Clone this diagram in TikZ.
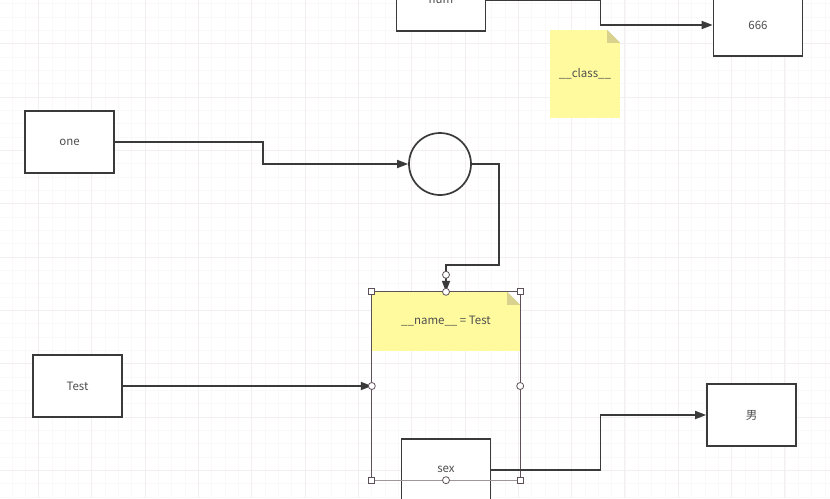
\documentclass[tikz,border=0pt]{standalone}
\usepackage{fontspec}
\setmainfont{Noto Sans CJK SC}
\usepackage{tikz}
\usetikzlibrary{calc,arrows.meta,positioning}
\definecolor{inkx}{HTML}{3A3A3A}
\definecolor{framex}{HTML}{5E5058}
\definecolor{notey}{HTML}{FFFA9E}
\definecolor{foldy}{HTML}{D8D28E}
\definecolor{gridx}{HTML}{F3EFF0}
\definecolor{gridm}{HTML}{FAF8F9}
\tikzset{
  ar/.style={-{Triangle[length=11pt,width=8pt]},line width=1.7pt,inkx},
  box/.style={draw=inkx,line width=1.7pt,fill=white,minimum width=89,minimum height=62,inner sep=0pt,font=\fontsize{11.5}{12}\selectfont,text=inkx!90},
  note/.style={fill=notey,inner sep=0pt,font=\fontsize{11.5}{12}\selectfont,text=inkx!90},
  gr/.style={gridx,line width=0.6pt},
  grm/.style={gridm,line width=0.5pt},
  hsq/.style={draw=framex,fill=white,line width=0.8pt,minimum size=6,inner sep=0pt},
  hci/.style={draw=framex,fill=white,line width=0.8pt,circle,minimum size=7,inner sep=0pt}
}
\begin{document}
\begin{tikzpicture}[x=1pt,y=-1pt]
\useasboundingbox (0,0) rectangle (830,498);
\clip (0,0) rectangle (830,498);
\fill[white] (0,0) rectangle (830,498);
% background grid
\foreach \i in {0,...,64}
  \draw[grm] ({-14.9+13.33*\i},0) -- ++(0,498) (0,{-9.6+13.33*\i}) -- ++(830,0);
\foreach \i in {0,...,16}
  \draw[gr] ({-14.9+53.3*\i},0) -- ++(0,498) (0,{-9.6+53.3*\i}) -- ++(830,0);
% top row
\node[box] (num) at (441,0) {num};
\node[box] (six) at (758,25) {666};
\node[note,minimum width=70,minimum height=88] (cls) at (585,74) {\_\_class\_\_};
\fill[white] (cls.north east) ++(-13,0) -- ++(13,0) -- ++(0,13) -- cycle;
\fill[foldy] (cls.north east) ++(-13,0) -- ++(13,13) -- ++(-13,0) -- cycle;
\draw[ar] (num.east) -- ++(114,0) |- (six.west);
% middle
\node[box] (one) at (69.5,142) {one};
\node[draw=inkx,line width=1.7pt,circle,minimum size=62,inner sep=0pt] (circ) at (440,164) {};
\draw[ar] (one.east) -- ++(148,0) |- (circ.west);
% container with the name note
\node[minimum width=148,minimum height=188,inner sep=0pt] (cont) at (446,386) {};
\node[note,minimum width=148,minimum height=59,anchor=north] (name) at (cont.north) {\_\_name\_\_ = Test};
\fill[white] (name.north east) ++(-13,0) -- ++(13,0) -- ++(0,13) -- cycle;
\fill[foldy] (name.north east) ++(-13,0) -- ++(13,13) -- ++(-13,0) -- cycle;
\node[box,anchor=north,minimum height=62] (sex) at (446,438) {sex};
\draw[framex,line width=1pt] (cont.north west) -- (cont.south west) (cont.north east) -- (cont.south east);
\draw[framex,line width=1pt] (cont.north west) -- (cont.north east);
\draw[framex!60,line width=0.8pt] (cont.south west) -- (cont.south east);
\draw[ar] (circ.east) -- ++(27,0) |- ($(cont.north)+(0,-27)$) -- (cont.north);
% left and right
\node[box] (test) at (77.5,386) {Test};
\draw[ar] (test.east) -- (cont.west);
\node[box] (nan) at (751.5,415) {男};
\draw[ar] (sex.east) -- ++(109,0) |- (nan.west);
% selection handles
\foreach \a in {north west,north east,south west,south east}
  \node[hsq] at (cont.\a) {};
\foreach \a in {north,south,west,east}
  \node[hci] at (cont.\a) {};
\node[hci] at ($(cont.north)+(0,-17)$) {};
\end{tikzpicture}
\end{document}
